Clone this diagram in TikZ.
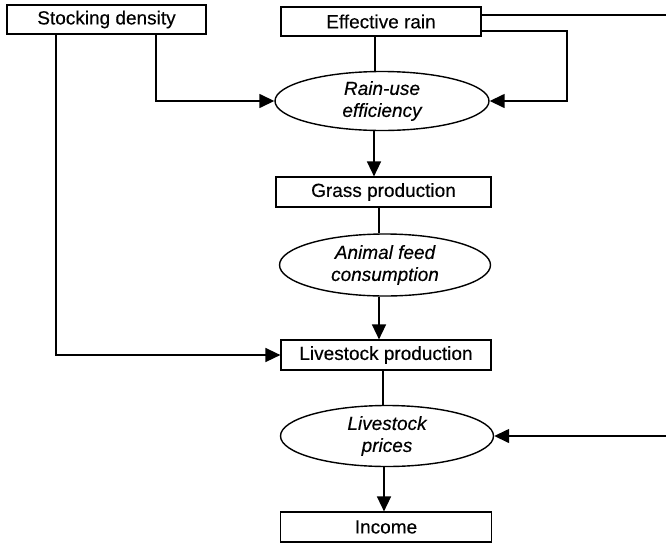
\documentclass[tikz,border=0pt]{standalone}
\usepackage{fontspec}
\setmainfont{Liberation Sans}
\newfontfamily\labelfont[FakeBold=0.3]{Liberation Sans}
\usetikzlibrary{shapes.geometric,arrows.meta}
\begin{document}
\begin{tikzpicture}[x=1pt,y=1pt,
  box/.style={draw, line width=1.2pt, rectangle, minimum width=200pt, minimum height=29pt,
    inner sep=0pt, font=\labelfont\fontsize{19}{22}\selectfont},
  oval/.style={draw, line width=1.4pt, ellipse, minimum width=213pt, minimum height=60pt,
    inner sep=0pt, align=center, font=\labelfont\fontsize{19}{22}\selectfont\itshape},
  link/.style={line width=1.5pt},
  arr/.style={link, -{Triangle[length=15pt,width=14pt]}}]
\useasboundingbox (0,0) rectangle (666,-544);

% boxes and ovals
\node[box, minimum width=199pt] (sd) at (106.5,-19.5) {Stocking density};
\node[box] (er) at (381,-21.5) {Effective rain};
\node[oval, minimum width=214pt, minimum height=59pt] (rue) at (382,-101) {Rain-use\\efficiency};
\node[box, minimum width=215pt, minimum height=30pt] (gp) at (383.5,-192) {Grass production};
\node[oval, minimum width=211pt, minimum height=62pt] (afc) at (385,-265) {Animal feed\\consumption};
\node[box, minimum width=210pt, minimum height=30pt] (lp) at (386,-355) {Livestock production};
\node[oval, minimum height=61pt] (lsp) at (387,-436) {Livestock\\prices};
\node[box, minimum width=211pt, minimum height=30pt] (inc) at (386,-527) {Income};

% turning points and free ends
\coordinate (eastA) at (666,-15);
\coordinate (eastB) at (666,-436);
\coordinate (loop) at (567,-101);
\coordinate (sdturn) at (156,-101);
\coordinate (sdcorner) at (56,-355);

% effective rain links
\draw[link] (er.east |- eastA) -- (eastA);
\draw[arr] ([yshift=-9.5pt]er.east) -| (loop) -- (rue.east);
\draw[link] ([xshift=-6pt]er.south) -- ([xshift=-6pt]er.south |- rue.north);

% stocking density links
\draw[arr] (sd.south -| sdturn) -- (sdturn) -- (rue.west);
\draw[arr] (sd.south -| sdcorner) -- (sdcorner) -- (lp.west);

% main chain
\draw[arr] ([xshift=-8pt]rue.south) -- ([xshift=-8pt]rue.south |- gp.north);
\draw[link] ([xshift=-4.5pt]gp.south) -- ([xshift=-4.5pt]gp.south |- afc.north);
\draw[arr] ([xshift=-6pt]afc.south) -- ([xshift=-6pt]afc.south |- lp.north);
\draw[link] ([xshift=-3pt]lp.south) -- ([xshift=-3pt]lp.south |- lsp.north);
\draw[arr] ([xshift=-3pt]lsp.south) -- ([xshift=-3pt]lsp.south |- inc.north);

% price input from the right
\draw[arr] (eastB) -- (lsp.east);
\end{tikzpicture}
\end{document}
